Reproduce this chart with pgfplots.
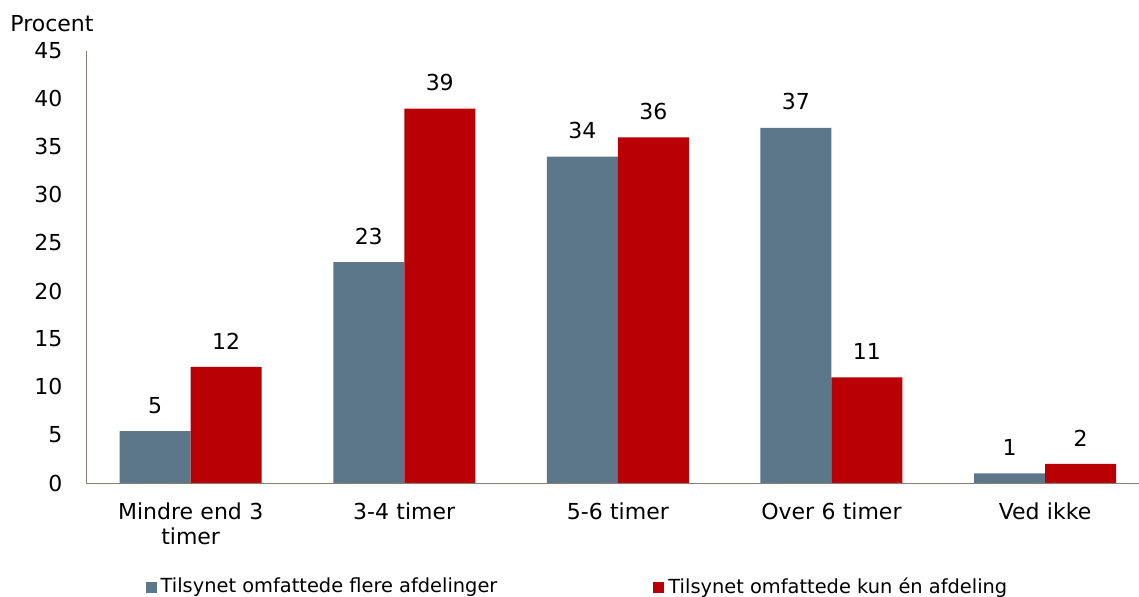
\documentclass[border=0pt]{standalone}
\usepackage{pgfplots}
\pgfplotsset{compat=1.18}
\usepackage{fontspec}
\setmainfont{DejaVu Sans}
\definecolor{cblue}{HTML}{5B7789}
\definecolor{cred}{HTML}{B90005}
\definecolor{caxis}{HTML}{857F72}
\begin{document}
\fontsize{11}{13}\selectfont
\begin{tikzpicture}
\useasboundingbox (0,0) rectangle (569.5pt,298.5pt);
\node[anchor=west, inner sep=0pt] at (5pt,286.5pt) {Procent};
\begin{axis}[
  at={(43pt,57pt)}, anchor=south west,
  scale only axis, width=526.5pt, height=216pt,
  ybar, bar width=35.5pt,
  ymin=0, ymax=45, ytick={0,5,...,45},
  xmin=-0.49, xmax=4.44,
  xtick=data,
  xticklabels={{Mindre end 3\\timer},{3-4 timer},{5-6 timer},{Over 6 timer},{Ved ikke}},
  xticklabel style={align=center, text width=100pt, yshift=-6pt, font=\fontsize{11}{12.5}\selectfont},
  axis x line=bottom, axis y line=left,
  axis line style={caxis, -},
  major tick length=0pt,
  yticklabel style={xshift=-8pt},
  /pgf/number format/assume math mode=true,
  tick label style={font=\fontsize{11}{13}\selectfont},
  nodes near coords,
  nodes near coords style={font=\fontsize{11}{13}\selectfont, yshift=5pt, /pgf/number format/.cd, fixed, precision=0, assume math mode=true},
  legend style={draw=none, at={(0.4677,-0.241)}, anchor=center, legend columns=2,
    font=\fontsize{9.7}{11}\selectfont,
    /tikz/every even column/.append style={column sep=76pt}},
  legend image code/.code={\fill[#1] (0pt,-2.75pt) rectangle (5.5pt,2.75pt);},
]
\addplot[fill=cblue, draw=none, bar shift=-17.75pt] coordinates {(0,5.4) (1,23) (2,34) (3,37) (4,1)};
\addplot[fill=cred, draw=none, bar shift=17.75pt] coordinates {(0,12.1) (1,39) (2,36) (3,11) (4,2)};
\legend{Tilsynet omfattede flere afdelinger, Tilsynet omfattede kun én afdeling}
\end{axis}
\end{tikzpicture}
\end{document}
